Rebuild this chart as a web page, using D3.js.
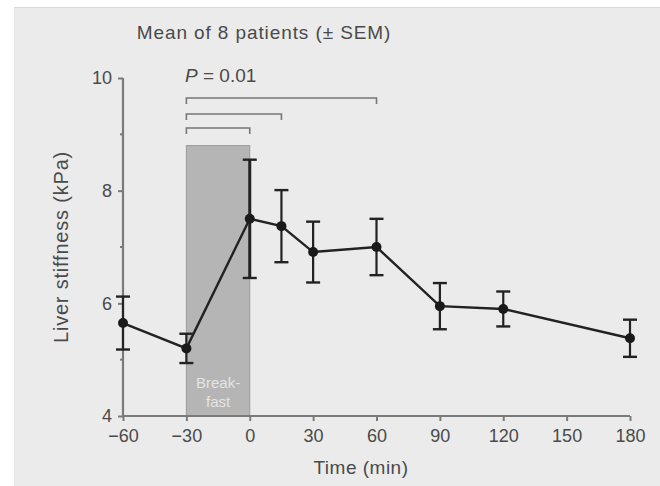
<!DOCTYPE html>
<html>
<head>
<meta charset="utf-8">
<script src="https://cdn.jsdelivr.net/npm/d3@7"></script>
<style>
  body { margin: 0; background: #fff; }
  svg { display: block; font-family: "Liberation Sans", Arial, sans-serif; }
</style>
</head>
<body>
<svg id="chart" width="660" height="486"></svg>
<script>
// data
var times = [-60, -30, 0, 15, 30, 60, 90, 120, 180];
var means = [5.65, 5.2, 7.5, 7.37, 6.91, 7.0, 5.95, 5.9, 5.38];
var sems  = [0.47, 0.26, 1.05, 0.64, 0.54, 0.5, 0.41, 0.31, 0.33];
var xTicks = [-60, -30, 0, 30, 60, 90, 120, 150, 180];
var yTicks = [4, 6, 8, 10];
var yMinor = [5, 7, 9];
var brackets = [[-30, 60], [-30, 15], [-30, 0]];
var breakfast = [-30, 0, 8.8];

var svg = d3.select("#chart");
var textCol = "#4a4a4a", axisCol = "#7a7a7a";

// grey panel
svg.append("rect").attr("x", 14).attr("y", 7).attr("width", 646).attr("height", 479).attr("fill", "#ebebeb");
svg.append("line").attr("x1", 14).attr("x2", 660).attr("y1", 7.5).attr("y2", 7.5)
  .attr("stroke", "#d6d6f0").attr("stroke-width", 1);

var x = d3.scaleLinear().domain([-60, 180]).range([123, 630]);
var y = d3.scaleLinear().domain([4, 10]).range([416, 78]);

// breakfast box
svg.append("rect")
  .attr("x", x(breakfast[0])).attr("y", y(breakfast[2]))
  .attr("width", x(breakfast[1]) - x(breakfast[0]))
  .attr("height", y(4) - y(breakfast[2]))
  .attr("fill", "#b5b5b5").attr("stroke", "#9a9a9a").attr("stroke-width", 1);
var bx = (x(breakfast[0]) + x(breakfast[1])) / 2;
svg.append("text").attr("x", bx).attr("y", 388).attr("text-anchor", "middle")
  .attr("fill", "#e4e4e4").attr("font-size", 15).text("Break-");
svg.append("text").attr("x", bx).attr("y", 407).attr("text-anchor", "middle")
  .attr("fill", "#e4e4e4").attr("font-size", 15).text("fast");

// axes
var xAxis = svg.append("g").attr("transform", "translate(0,416)")
  .call(d3.axisBottom(x).tickValues(xTicks).tickSize(5).tickPadding(8)
    .tickFormat(function (d) { return d < 0 ? "\u2212" + Math.abs(d) : d; }));
var yAxis = svg.append("g").attr("transform", "translate(123,0)")
  .call(d3.axisLeft(y).tickValues(yTicks).tickSize(5).tickPadding(6).tickFormat(d3.format("d")));
yAxis.selectAll(".minor").data(yMinor).enter().append("line")
  .attr("x1", -3).attr("x2", 0).attr("y1", y).attr("y2", y)
  .attr("stroke", axisCol).attr("stroke-width", 2);
[xAxis, yAxis].forEach(function (a) {
  a.select(".domain").attr("stroke", axisCol).attr("stroke-width", 2.2);
  a.selectAll(".tick line").attr("stroke", axisCol).attr("stroke-width", 2);
  a.selectAll(".tick text").attr("fill", textCol).attr("font-size", 18);
});
xAxis.select(".domain").attr("d", "M" + x(-60) + ",0H" + x(180));
yAxis.select(".domain").attr("d", "M0," + y(10) + "V" + y(4));

// labels
svg.append("text").attr("x", 361).attr("y", 474).attr("text-anchor", "middle")
  .attr("fill", textCol).attr("font-size", 19).attr("letter-spacing", 0.5).text("Time (min)");
svg.append("text").attr("transform", "translate(68,247) rotate(-90)")
  .attr("text-anchor", "middle").attr("fill", textCol).attr("font-size", 20)
  .attr("letter-spacing", 0.8).text("Liver stiffness (kPa)");
svg.append("text").attr("x", 264).attr("y", 39).attr("text-anchor", "middle")
  .attr("fill", textCol).attr("font-size", 19).attr("letter-spacing", 0.9)
  .text("Mean of 8 patients (\u00b1 SEM)");
var pt = svg.append("text").attr("x", 185).attr("y", 82)
  .attr("fill", textCol).attr("font-size", 19);
pt.append("tspan").attr("font-style", "italic").text("P");
pt.append("tspan").text(" = 0.01");

// brackets
var brY = [98, 114, 128];
brackets.forEach(function (b, i) {
  svg.append("path")
    .attr("d", "M" + x(b[0]) + "," + (brY[i] + 6) + "V" + brY[i] + "H" + x(b[1]) + "V" + (brY[i] + 6))
    .attr("fill", "none").attr("stroke", "#777").attr("stroke-width", 1.6);
});

// error bars
var pts = times.map(function (t, i) { return { t: t, m: means[i], s: sems[i] }; });
var eb = svg.append("g").attr("stroke", "#222");
pts.forEach(function (d) {
  var w = (d.t === 0) ? 3 : 2.2;
  eb.append("line").attr("x1", x(d.t)).attr("x2", x(d.t))
    .attr("y1", y(d.m - d.s)).attr("y2", y(d.m + d.s)).attr("stroke-width", w);
  [d.m - d.s, d.m + d.s].forEach(function (v) {
    eb.append("line").attr("x1", x(d.t) - 7).attr("x2", x(d.t) + 7)
      .attr("y1", y(v)).attr("y2", y(v)).attr("stroke-width", 2.4);
  });
});

// line and points
svg.append("path").datum(pts)
  .attr("fill", "none").attr("stroke", "#222").attr("stroke-width", 2.4)
  .attr("d", d3.line().x(function (d) { return x(d.t); }).y(function (d) { return y(d.m); }));
svg.selectAll(".pt").data(pts).enter().append("circle")
  .attr("cx", function (d) { return x(d.t); }).attr("cy", function (d) { return y(d.m); })
  .attr("r", 5).attr("fill", "#1a1a1a");
</script>
</body>
</html>
